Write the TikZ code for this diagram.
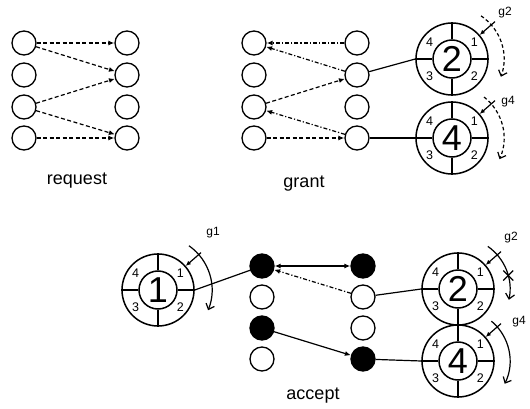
\documentclass[tikz,border=0pt]{standalone}
\usepackage{fontspec}
\setmainfont{Liberation Sans}
\usetikzlibrary{arrows.meta,calc}
\tikzset{
  port/.style={circle,draw,line width=1.3pt,minimum size=24pt,inner sep=0pt},
  fport/.style={port,fill=black},
  tipL/.tip={Latex[length=6pt,width=5pt]},
  reqline/.style={line width=1.2pt,dash pattern=on 4pt off 2.5pt,-tipL},
  grline/.style={line width=1.2pt,dash pattern=on 4pt off 2pt on 1.2pt off 2pt,-tipL},
  accline/.style={line width=1.2pt,-tipL},
  link/.style={line width=1.2pt},
  wouter/.style={circle,draw,line width=1.5pt,minimum size=72pt,inner sep=0pt},
  winner/.style={circle,draw,line width=1.5pt,minimum size=38pt,inner sep=0pt,font=\fontsize{36}{36}\selectfont},
  spoke/.style={line width=1.5pt},
  rnum/.style={font=\fontsize{12.5}{12.5}\selectfont,inner sep=0pt},
  lbl/.style={font=\fontsize{18}{18}\selectfont,inner sep=0pt},
  glbl/.style={font=\fontsize{12}{12}\selectfont,inner sep=0pt},
  ptr/.style={line width=1.2pt,-{Latex[length=5pt,width=4.5pt]}},
  sweep/.style={line width=1.2pt,-{Straight Barb[length=5pt,width=9pt]}},
  dsweep/.style={sweep,dash pattern=on 3.5pt off 2.5pt},
}
\newcommand\arbwheel[3]{%
  \node[wouter] (#1) at (#2) {};
  \node[winner] (#1i) at (#2) {#3};
  \foreach \a in {north,south,east,west} {\draw[spoke] (#1i.\a) -- (#1.\a);}
  \node[rnum] (#1n1) at ($(#1)+(37:28pt)$) {1};
  \node[rnum] (#1n2) at ($(#1)+(-37:28pt)$) {2};
  \node[rnum] (#1n3) at ($(#1)+(-143:28pt)$) {3};
  \node[rnum] (#1n4) at ($(#1)+(143:28pt)$) {4};
}
\begin{document}
\begin{tikzpicture}[x=1pt,y=-1pt]
\useasboundingbox (0,0) rectangle (530,409);
% request
\foreach \i/\y in {1/43,2/75,3/107,4/138} {
  \node[port] (rl\i) at (24,\y) {};
  \node[port] (rr\i) at (127,\y) {};
}
\draw[reqline] (rl1) -- (rr1);
\draw[reqline] (rl1) -- (rr2);
\draw[reqline] (rl3) -- (rr2);
\draw[reqline] (rl3) -- (rr4);
\draw[reqline] (rl4) -- (rr4);
\node[lbl] (treq) at (77,181) {request};
% grant
\foreach \i/\y in {1/43,2/75,3/107,4/138} {
  \node[port] (gl\i) at (254,\y) {};
  \node[port] (gr\i) at (357,\y) {};
}
\draw[grline] (gr1) -- (gl1);
\draw[grline] (gr2) -- (gl1);
\draw[reqline] (gl3) -- (gr2);
\draw[grline] (gr4) -- (gl3);
\draw[reqline] (gl4) -- (gr4);
\node[lbl] (tgr) at (304,184) {grant};
\arbwheel{gw2}{452,59}{2}
\arbwheel{gw4}{452,138}{4}
\draw[link] (gr2) -- (gw2.west);
\draw[link] (gr4) -- (gw4.west);
\coordinate (gw2p) at ($(gw2)+(41:57pt)$);
\coordinate (gw4p) at ($(gw4)+(41:57pt)$);
\draw[ptr] (gw2p) -- (gw2.41);
\draw[ptr] (gw4p) -- (gw4.41);
\draw[dsweep] ($(gw2)+(56:52pt)$) arc[start angle=56,end angle=-20,radius=52pt];
\draw[dsweep] ($(gw4)+(52:52pt)$) arc[start angle=52,end angle=-24,radius=52pt];
\node[glbl] (tg2) at (505,13) {g2};
\node[glbl] (tg4) at (508,102) {g4};
% accept
\foreach \i/\y/\sl/\sr in {1/266/fport/fport,2/297/port/port,3/328/fport/port,4/359/port/fport} {
  \node[\sl] (al\i) at (262,\y) {};
  \node[\sr] (ar\i) at (363,\y) {};
}
\draw[accline,tipL-tipL] (al1) -- (ar1);
\draw[grline] (ar2) -- (al1);
\draw[accline] (al3) -- (ar4);
\node[lbl] (tacc) at (313,396) {accept};
\arbwheel{aw1}{158,290}{1}
\arbwheel{aw2}{458,289}{2}
\arbwheel{aw4}{458,361}{4}
\draw[link] (aw1.east) -- (al1);
\draw[link] (ar2) -- (aw2.west);
\draw[link] (ar4) -- (aw4.west);
\coordinate (aw1p) at ($(aw1)+(41:57pt)$);
\coordinate (aw2p) at ($(aw2)+(41:57pt)$);
\coordinate (aw4p) at ($(aw4)+(41:57pt)$);
\draw[ptr] (aw1p) -- (aw1.41);
\draw[ptr] (aw2p) -- (aw2.41);
\draw[ptr] (aw4p) -- (aw4.41);
\draw[sweep] ($(aw1)+(55:54pt)$) arc[start angle=55,end angle=-22,radius=54pt];
\draw[sweep] ($(aw2)+(55:52pt)$) arc[start angle=55,end angle=-12,radius=52pt];
\draw[sweep] ($(aw4)+(50:52pt)$) arc[start angle=50,end angle=-26,radius=52pt];
\coordinate (xm) at ($(aw2)+(15:52pt)$);
\draw[link] ($(xm)+(-5pt,-5pt)$) -- ($(xm)+(5pt,5pt)$);
\draw[link] ($(xm)+(-5pt,5pt)$) -- ($(xm)+(5pt,-5pt)$);
\node[glbl] (tg1) at (213,233) {g1};
\node[glbl] (tg2a) at (511,238) {g2};
\node[glbl] (tg4a) at (519,322) {g4};
\end{tikzpicture}
\end{document}
